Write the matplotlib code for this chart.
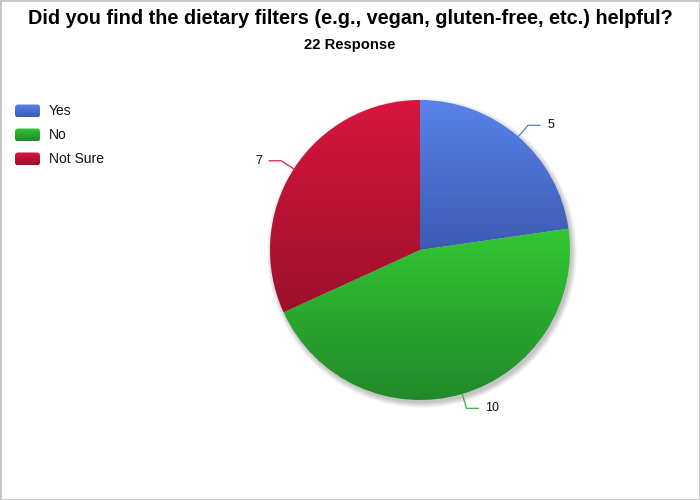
import numpy as np
import matplotlib
matplotlib.use("Agg")
import matplotlib.pyplot as plt
from matplotlib.patches import Circle, FancyBboxPatch, Rectangle
from matplotlib.colors import to_rgb

# data
categories = ["Yes", "No", "Not Sure"]
counts = [5, 10, 7]
title = "Did you find the dietary filters (e.g., vegan, gluten-free, etc.) helpful?"
subtitle = "22 Response"

# top / bottom colour of each slice gradient
top_colors = ["#5883ea", "#33c833", "#d8163e"]
bottom_colors = ["#3c5bb3", "#21872a", "#9c102b"]
line_colors = ["#5a78d8", "#2db82d", "#d4234a"]

plt.rcParams["font.family"] = ["Liberation Sans", "DejaVu Sans"]

fig = plt.figure(figsize=(7, 5), dpi=100)
ax = fig.add_axes([0, 0, 1, 1])

cx, cy, R = 420, 250, 150

# soft drop shadow under the pie
for i in range(10):
    ax.add_patch(Circle((cx + 2, cy - 3), R + 5 - i * 0.6, color="black",
                        alpha=0.025, lw=0, zorder=0))

wedges, _ = ax.pie(counts, center=(cx, cy), radius=R, startangle=90,
                   counterclock=False, frame=True,
                   wedgeprops=dict(linewidth=0))

for w, c_top, c_bot, lc, n in zip(wedges, top_colors, bottom_colors, line_colors, counts):
    w.set_facecolor("none")
    w.set_zorder(2)
    verts = w.get_path().vertices
    x0, x1 = verts[:, 0].min(), verts[:, 0].max()
    y0, y1 = verts[:, 1].min(), verts[:, 1].max()
    t = np.linspace(0, 1, 256)[:, None]
    grad = (1 - t) * np.array(to_rgb(c_top)) + t * np.array(to_rgb(c_bot))
    im = ax.imshow(grad[:, None, :], extent=(x0, x1, y0, y1), origin="upper",
                   aspect="auto", interpolation="bilinear", zorder=1)
    im.set_clip_path(w)

    # leader line and value label
    mid = np.deg2rad((w.theta1 + w.theta2) / 2)
    px, py = cx + R * np.cos(mid), cy + R * np.sin(mid)
    qx, qy = cx + (R + 15) * np.cos(mid), cy + (R + 15) * np.sin(mid)
    side = 1 if np.cos(mid) >= 0 else -1
    ex = qx + side * 12
    ax.plot([px, qx, ex], [py, qy, qy], color=lc, lw=0.9, zorder=3)
    ax.text(ex + side * 7, qy, str(n), ha="left" if side > 0 else "right",
            va="center", fontsize=9, color="#111111", zorder=3)

# legend with rounded swatches
for i, (cat, c_top, c_bot) in enumerate(zip(categories, top_colors, bottom_colors)):
    yy = 500 - 111 - i * 24
    t = np.linspace(0, 1, 32)[:, None]
    grad = (1 - t) * np.array(to_rgb(c_top)) + t * np.array(to_rgb(c_bot))
    sw = FancyBboxPatch((15, yy - 6.5), 25, 13,
                        boxstyle="round,pad=0,rounding_size=3",
                        fc="none", ec="none", zorder=3)
    ax.add_patch(sw)
    im = ax.imshow(grad[:, None, :], extent=(15, 40, yy - 6.5, yy + 6.5),
                   origin="upper", aspect="auto", interpolation="bilinear",
                   zorder=3)
    im.set_clip_path(sw)
    ax.text(49, yy, cat, ha="left", va="center", fontsize=10, color="#111111")

ax.set_xlim(0, 700)
ax.set_ylim(0, 500)
ax.set_aspect("equal")
ax.axis("off")

fig.text(0.5, 1 - 18 / 500, title, ha="center", va="center",
         fontsize=14.3, fontweight="bold")
fig.text(0.5, 1 - 45 / 500, subtitle, ha="center", va="center",
         fontsize=10.6, fontweight="bold")

fig.patches.append(Rectangle((0, 0), 1, 1, transform=fig.transFigure,
                             fill=False, ec="#c4c4c4", lw=2))

fig.savefig("out.png", dpi=100)
